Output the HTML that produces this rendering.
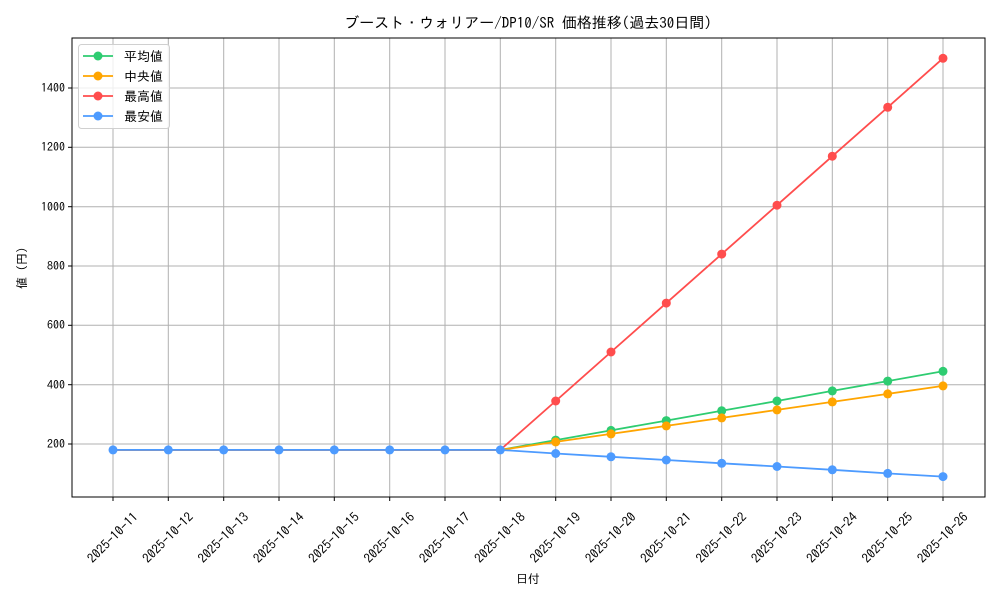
<!DOCTYPE html><html><head><meta charset="utf-8"><style>body{margin:0;background:#fff}text{font-family:"IPAGothic","Liberation Sans","Noto Sans CJK JP",sans-serif;fill:#000}</style></head><body>
<svg width="1000" height="600" xmlns="http://www.w3.org/2000/svg">
<text x="528" y="28" font-size="15" text-anchor="middle">ブースト・ウォリアー/DP10/SR 価格推移(過去30日間)</text>
<g stroke="#b0b0b0" stroke-width="1">
<line x1="113" y1="38" x2="113" y2="497"/><line x1="168.3" y1="38" x2="168.3" y2="497"/><line x1="223.7" y1="38" x2="223.7" y2="497"/><line x1="279" y1="38" x2="279" y2="497"/><line x1="334.3" y1="38" x2="334.3" y2="497"/><line x1="389.7" y1="38" x2="389.7" y2="497"/><line x1="445" y1="38" x2="445" y2="497"/><line x1="500.3" y1="38" x2="500.3" y2="497"/><line x1="555.7" y1="38" x2="555.7" y2="497"/><line x1="611" y1="38" x2="611" y2="497"/><line x1="666.3" y1="38" x2="666.3" y2="497"/><line x1="721.7" y1="38" x2="721.7" y2="497"/><line x1="777" y1="38" x2="777" y2="497"/><line x1="832.3" y1="38" x2="832.3" y2="497"/><line x1="887.7" y1="38" x2="887.7" y2="497"/><line x1="943" y1="38" x2="943" y2="497"/>
<line x1="72" y1="444" x2="985" y2="444"/><line x1="72" y1="384.7" x2="985" y2="384.7"/><line x1="72" y1="325.3" x2="985" y2="325.3"/><line x1="72" y1="266" x2="985" y2="266"/><line x1="72" y1="206.7" x2="985" y2="206.7"/><line x1="72" y1="147.3" x2="985" y2="147.3"/><line x1="72" y1="88" x2="985" y2="88"/>
</g>
<rect x="72" y="38" width="913" height="459" fill="none" stroke="#000" stroke-width="1"/>
<g stroke="#000"><line x1="68" y1="444" x2="72" y2="444"/><line x1="68" y1="384.7" x2="72" y2="384.7"/><line x1="68" y1="325.3" x2="72" y2="325.3"/><line x1="68" y1="266" x2="72" y2="266"/><line x1="68" y1="206.7" x2="72" y2="206.7"/><line x1="68" y1="147.3" x2="72" y2="147.3"/><line x1="68" y1="88" x2="72" y2="88"/>
<line x1="113" y1="497" x2="113" y2="501"/><line x1="168.3" y1="497" x2="168.3" y2="501"/><line x1="223.7" y1="497" x2="223.7" y2="501"/><line x1="279" y1="497" x2="279" y2="501"/><line x1="334.3" y1="497" x2="334.3" y2="501"/><line x1="389.7" y1="497" x2="389.7" y2="501"/><line x1="445" y1="497" x2="445" y2="501"/><line x1="500.3" y1="497" x2="500.3" y2="501"/><line x1="555.7" y1="497" x2="555.7" y2="501"/><line x1="611" y1="497" x2="611" y2="501"/><line x1="666.3" y1="497" x2="666.3" y2="501"/><line x1="721.7" y1="497" x2="721.7" y2="501"/><line x1="777" y1="497" x2="777" y2="501"/><line x1="832.3" y1="497" x2="832.3" y2="501"/><line x1="887.7" y1="497" x2="887.7" y2="501"/><line x1="943" y1="497" x2="943" y2="501"/></g>
<g font-size="12" text-anchor="end"><text x="65" y="448">200</text><text x="65" y="389">400</text><text x="65" y="329">600</text><text x="65" y="270">800</text><text x="65" y="211">1000</text><text x="65" y="151">1200</text><text x="65" y="92">1400</text></g>
<g font-size="13" text-anchor="middle">
<text transform="translate(113,538) rotate(-45)" dy="4">2025-10-11</text><text transform="translate(168.3,538) rotate(-45)" dy="4">2025-10-12</text><text transform="translate(223.7,538) rotate(-45)" dy="4">2025-10-13</text><text transform="translate(279,538) rotate(-45)" dy="4">2025-10-14</text><text transform="translate(334.3,538) rotate(-45)" dy="4">2025-10-15</text><text transform="translate(389.7,538) rotate(-45)" dy="4">2025-10-16</text><text transform="translate(445,538) rotate(-45)" dy="4">2025-10-17</text><text transform="translate(500.3,538) rotate(-45)" dy="4">2025-10-18</text><text transform="translate(555.7,538) rotate(-45)" dy="4">2025-10-19</text><text transform="translate(611,538) rotate(-45)" dy="4">2025-10-20</text><text transform="translate(666.3,538) rotate(-45)" dy="4">2025-10-21</text><text transform="translate(721.7,538) rotate(-45)" dy="4">2025-10-22</text><text transform="translate(777,538) rotate(-45)" dy="4">2025-10-23</text><text transform="translate(832.3,538) rotate(-45)" dy="4">2025-10-24</text><text transform="translate(887.7,538) rotate(-45)" dy="4">2025-10-25</text><text transform="translate(943,538) rotate(-45)" dy="4">2025-10-26</text>
</g>
<text x="528" y="583" font-size="12" text-anchor="middle">日付</text>
<text transform="translate(26,268) rotate(-90)" font-size="12" text-anchor="middle">値 (円)</text>
<polyline fill="none" stroke="#2ecc71" stroke-width="1.8" points="113,449.9 168.3,449.9 223.7,449.9 279,449.9 334.3,449.9 389.7,449.9 445,449.9 500.3,449.9 555.7,440.1 611,430.4 666.3,420.6 721.7,410.8 777,401 832.3,390.9 887.7,381.1 943,371.3"/>
<polyline fill="none" stroke="#ffa500" stroke-width="1.8" points="113,449.9 168.3,449.9 223.7,449.9 279,449.9 334.3,449.9 389.7,449.9 445,449.9 500.3,449.9 555.7,441.9 611,433.9 666.3,425.9 721.7,417.9 777,409.9 832.3,401.9 887.7,393.9 943,385.9"/>
<polyline fill="none" stroke="#ff4d4d" stroke-width="1.8" points="113,449.9 168.3,449.9 223.7,449.9 279,449.9 334.3,449.9 389.7,449.9 445,449.9 500.3,449.9 555.7,401 611,352 666.3,303.1 721.7,254.1 777,205.2 832.3,156.2 887.7,107.3 943,58.3"/>
<polyline fill="none" stroke="#4d9bff" stroke-width="1.8" points="113,449.9 168.3,449.9 223.7,449.9 279,449.9 334.3,449.9 389.7,449.9 445,449.9 500.3,449.9 555.7,453.5 611,456.8 666.3,460 721.7,463.3 777,466.5 832.3,469.8 887.7,473.4 943,476.6"/>
<g fill="#2ecc71"><circle cx="555.7" cy="440.1" r="4.5"/><circle cx="611" cy="430.4" r="4.5"/><circle cx="666.3" cy="420.6" r="4.5"/><circle cx="721.7" cy="410.8" r="4.5"/><circle cx="777" cy="401" r="4.5"/><circle cx="832.3" cy="390.9" r="4.5"/><circle cx="887.7" cy="381.1" r="4.5"/><circle cx="943" cy="371.3" r="4.5"/></g>
<g fill="#ffa500"><circle cx="555.7" cy="441.9" r="4.5"/><circle cx="611" cy="433.9" r="4.5"/><circle cx="666.3" cy="425.9" r="4.5"/><circle cx="721.7" cy="417.9" r="4.5"/><circle cx="777" cy="409.9" r="4.5"/><circle cx="832.3" cy="401.9" r="4.5"/><circle cx="887.7" cy="393.9" r="4.5"/><circle cx="943" cy="385.9" r="4.5"/></g>
<g fill="#ff4d4d"><circle cx="555.7" cy="401" r="4.5"/><circle cx="611" cy="352" r="4.5"/><circle cx="666.3" cy="303.1" r="4.5"/><circle cx="721.7" cy="254.1" r="4.5"/><circle cx="777" cy="205.2" r="4.5"/><circle cx="832.3" cy="156.2" r="4.5"/><circle cx="887.7" cy="107.3" r="4.5"/><circle cx="943" cy="58.3" r="4.5"/></g>
<g fill="#4d9bff"><circle cx="113" cy="449.9" r="4.5"/><circle cx="168.3" cy="449.9" r="4.5"/><circle cx="223.7" cy="449.9" r="4.5"/><circle cx="279" cy="449.9" r="4.5"/><circle cx="334.3" cy="449.9" r="4.5"/><circle cx="389.7" cy="449.9" r="4.5"/><circle cx="445" cy="449.9" r="4.5"/><circle cx="500.3" cy="449.9" r="4.5"/><circle cx="555.7" cy="453.5" r="4.5"/><circle cx="611" cy="456.8" r="4.5"/><circle cx="666.3" cy="460" r="4.5"/><circle cx="721.7" cy="463.3" r="4.5"/><circle cx="777" cy="466.5" r="4.5"/><circle cx="832.3" cy="469.8" r="4.5"/><circle cx="887.7" cy="473.4" r="4.5"/><circle cx="943" cy="476.6" r="4.5"/></g>
<rect x="78.5" y="44.5" width="91" height="84" rx="3" fill="#fff" fill-opacity="0.8" stroke="#d0d0d0"/>
<g stroke-width="1.8"><line x1="83" y1="56" x2="113" y2="56" stroke="#2ecc71"/><line x1="83" y1="76" x2="113" y2="76" stroke="#ffa500"/><line x1="83" y1="96" x2="113" y2="96" stroke="#ff4d4d"/><line x1="83" y1="116" x2="113" y2="116" stroke="#4d9bff"/></g>
<circle cx="98" cy="56" r="4.5" fill="#2ecc71"/><circle cx="98" cy="76" r="4.5" fill="#ffa500"/><circle cx="98" cy="96" r="4.5" fill="#ff4d4d"/><circle cx="98" cy="116" r="4.5" fill="#4d9bff"/>
<g font-size="13"><text x="124" y="61">平均値</text><text x="124" y="81">中央値</text><text x="124" y="101">最高値</text><text x="124" y="121">最安値</text></g>
</svg></body></html>
